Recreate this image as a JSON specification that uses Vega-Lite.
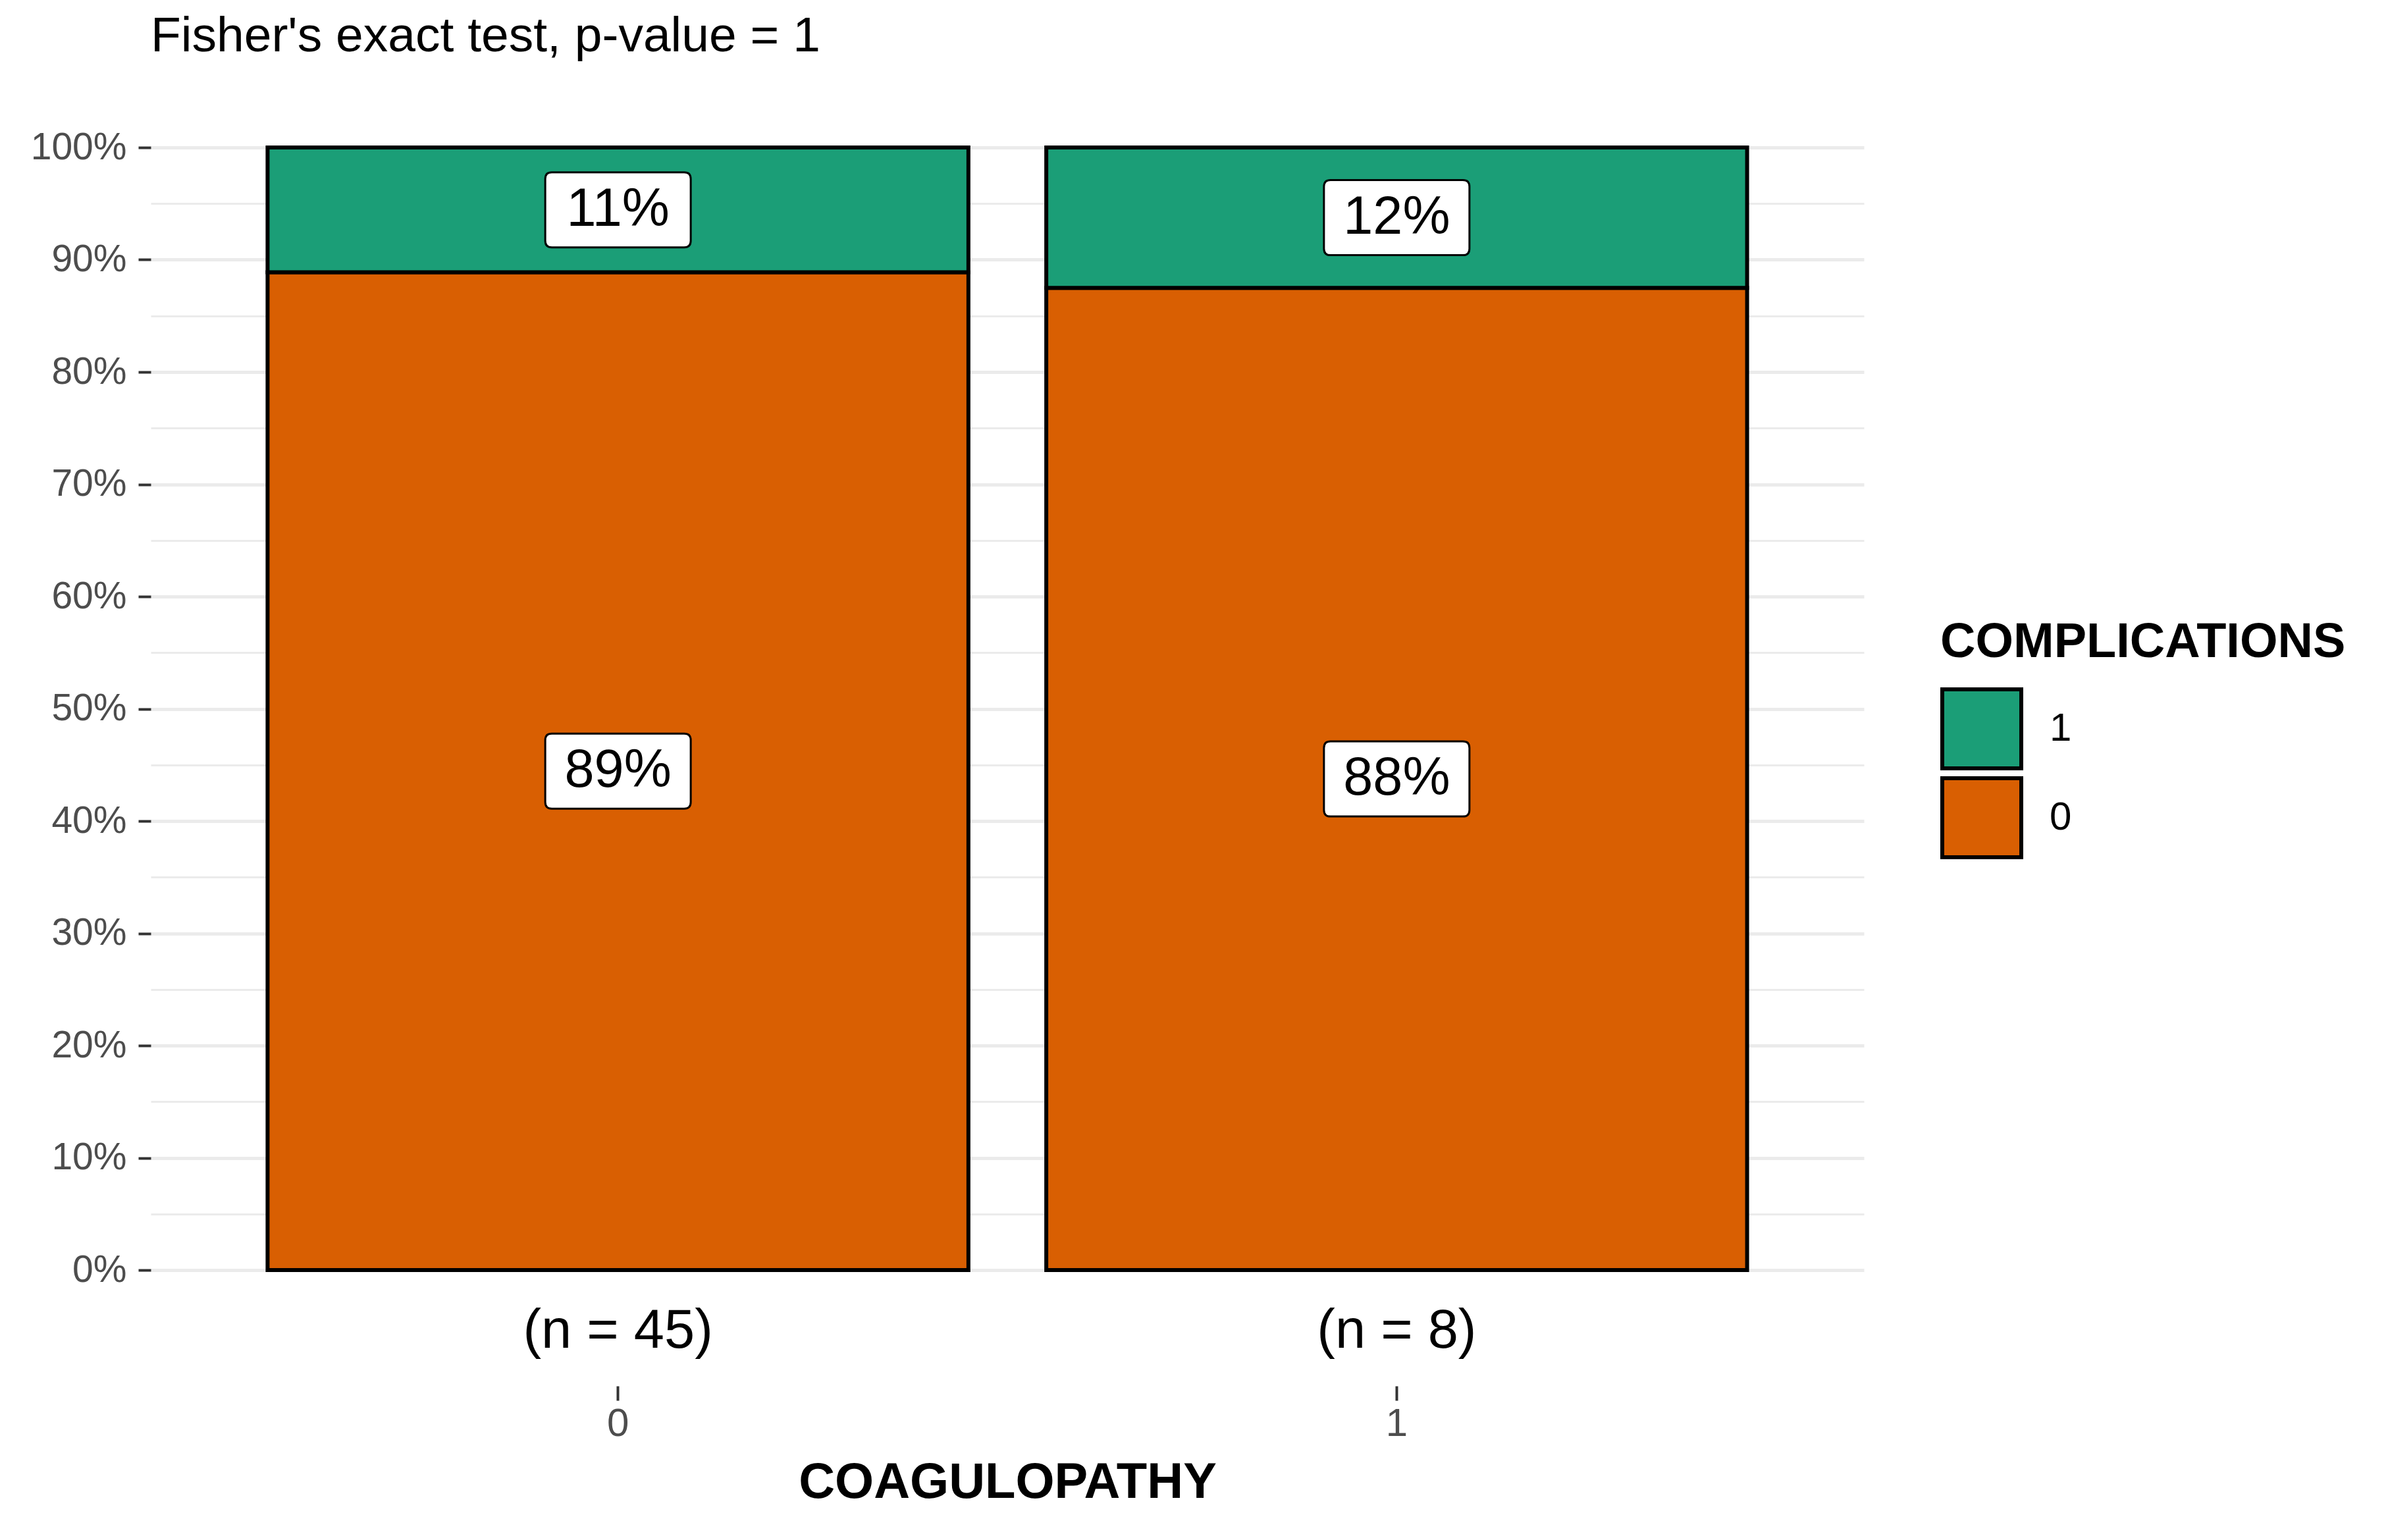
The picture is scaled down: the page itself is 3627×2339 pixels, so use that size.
{
  "$schema": "https://vega.github.io/schema/vega-lite/v6.json",
  "autosize": {"type": "none"},
  "padding": {"left": 229, "top": 224, "right": 796, "bottom": 410},
  "width": 2602,
  "height": 1705,
  "background": "white",
  "title": {
    "text": "Fisher's exact test, p-value = 1",
    "anchor": "start",
    "frame": "group",
    "font": "Liberation Sans",
    "fontSize": 75,
    "fontWeight": "normal",
    "color": "#000000",
    "baseline": "alphabetic",
    "offset": 42
  },
  "datasets": {
    "props": [
      {"COAGULOPATHY": "0", "COMPLICATIONS": "0", "pct": 0.8889, "label": "89%"},
      {"COAGULOPATHY": "0", "COMPLICATIONS": "1", "pct": 0.1111, "label": "11%"},
      {"COAGULOPATHY": "1", "COMPLICATIONS": "0", "pct": 0.875, "label": "88%"},
      {"COAGULOPATHY": "1", "COMPLICATIONS": "1", "pct": 0.125, "label": "12%"}
    ],
    "counts": [
      {"COAGULOPATHY": "0", "n_label": "(n = 45)"},
      {"COAGULOPATHY": "1", "n_label": "(n = 8)"}
    ]
  },
  "encoding": {
    "x": {
      "field": "COAGULOPATHY",
      "type": "nominal",
      "scale": {"paddingInner": 0.1, "paddingOuter": 0.15},
      "axis": {
        "title": "COAGULOPATHY",
        "titleFont": "Liberation Sans",
        "titleFontSize": 76,
        "titleFontWeight": "bold",
        "titleColor": "#000000",
        "titlePadding": 22,
        "labelAngle": 0,
        "labelFont": "Liberation Sans",
        "labelFontSize": 60,
        "labelColor": "#4d4d4d",
        "labelPadding": 6,
        "domain": false,
        "grid": false,
        "ticks": true,
        "tickSize": 22,
        "tickWidth": 4,
        "tickColor": "#333333",
        "offset": 176
      }
    }
  },
  "layer": [
    {
      "data": {"name": "props"},
      "mark": {"type": "bar", "stroke": "#000000", "strokeWidth": 6},
      "encoding": {
        "y": {
          "field": "pct",
          "type": "quantitative",
          "stack": "zero",
          "scale": {"domain": [0, 1], "nice": false, "zero": false},
          "axis": {
            "title": null,
            "values": [0, 0.05, 0.1, 0.15, 0.2, 0.25, 0.3, 0.35, 0.4, 0.45, 0.5, 0.55, 0.6, 0.65, 0.7, 0.75, 0.8, 0.85, 0.9, 0.95, 1],
            "labelExpr": "round(datum.value*100) % 10 === 0 ? round(datum.value*100) + '%' : ''",
            "labelFont": "Liberation Sans",
            "labelFontSize": 57,
            "labelColor": "#4d4d4d",
            "labelPadding": 18,
            "domain": false,
            "ticks": true,
            "tickSize": 19,
            "tickWidth": 4,
            "tickColor": "#333333",
            "tickOpacity": {"condition": {"test": "round(datum.value*100) % 10 !== 0", "value": 0}, "value": 1},
            "grid": true,
            "gridColor": "#ebebeb",
            "gridWidth": {"condition": {"test": "round(datum.value*100) % 10 !== 0", "value": 3}, "value": 5}
          }
        },
        "color": {
          "field": "COMPLICATIONS",
          "type": "nominal",
          "scale": {"domain": ["1", "0"], "range": ["#1B9E77", "#D95F02"]},
          "legend": {
            "title": "COMPLICATIONS",
            "orient": "none",
            "legendX": 2718,
            "legendY": 716,
            "padding": 0,
            "titleFont": "Liberation Sans",
            "titleFontSize": 74,
            "titleFontWeight": "bold",
            "titleColor": "#000000",
            "titlePadding": 30,
            "titleLimit": 2000,
            "labelFont": "Liberation Sans",
            "labelFontSize": 60,
            "labelColor": "#000000",
            "labelOffset": 40,
            "symbolType": "square",
            "symbolSize": 14400,
            "symbolStrokeColor": "#000000",
            "symbolStrokeWidth": 6,
            "symbolOpacity": 1,
            "symbolFillOpacity": 1,
            "rowPadding": -14
          }
        },
        "order": {"field": "COMPLICATIONS", "type": "nominal", "sort": "ascending"}
      }
    },
    {
      "data": {"name": "props"},
      "mark": {
        "type": "point",
        "shape": "M-0.91,-0.516 L0.91,-0.516 Q1,-0.516 1,-0.426 L1,0.426 Q1,0.516 0.91,0.516 L-0.91,0.516 Q-1,0.516 -1,0.426 L-1,-0.426 Q-1,-0.516 -0.91,-0.516 Z",
        "size": 48841,
        "filled": true,
        "fill": "#ffffff",
        "stroke": "#000000",
        "strokeWidth": 3,
        "opacity": 1
      },
      "encoding": {
        "y": {"field": "pct", "type": "quantitative", "stack": "zero", "bandPosition": 0.5, "axis": {"title": null}},
        "detail": {"field": "COMPLICATIONS", "type": "nominal"},
        "order": {"field": "COMPLICATIONS", "type": "nominal", "sort": "ascending"}
      }
    },
    {
      "data": {"name": "props"},
      "mark": {"type": "text", "font": "Liberation Sans", "fontSize": 81, "color": "#000000", "align": "center", "baseline": "middle"},
      "encoding": {
        "y": {"field": "pct", "type": "quantitative", "stack": "zero", "bandPosition": 0.5, "axis": {"title": null}},
        "detail": {"field": "COMPLICATIONS", "type": "nominal"},
        "order": {"field": "COMPLICATIONS", "type": "nominal", "sort": "ascending"},
        "text": {"field": "label", "type": "nominal"}
      }
    },
    {
      "data": {"name": "counts"},
      "mark": {"type": "text", "font": "Liberation Sans", "fontSize": 83, "color": "#000000", "align": "center", "baseline": "middle", "dy": 93},
      "encoding": {
        "y": {"datum": 0, "type": "quantitative", "axis": {"title": null}},
        "text": {"field": "n_label", "type": "nominal"}
      }
    }
  ],
  "config": {
    "view": {"stroke": null},
    "font": "Liberation Sans"
  }
}
